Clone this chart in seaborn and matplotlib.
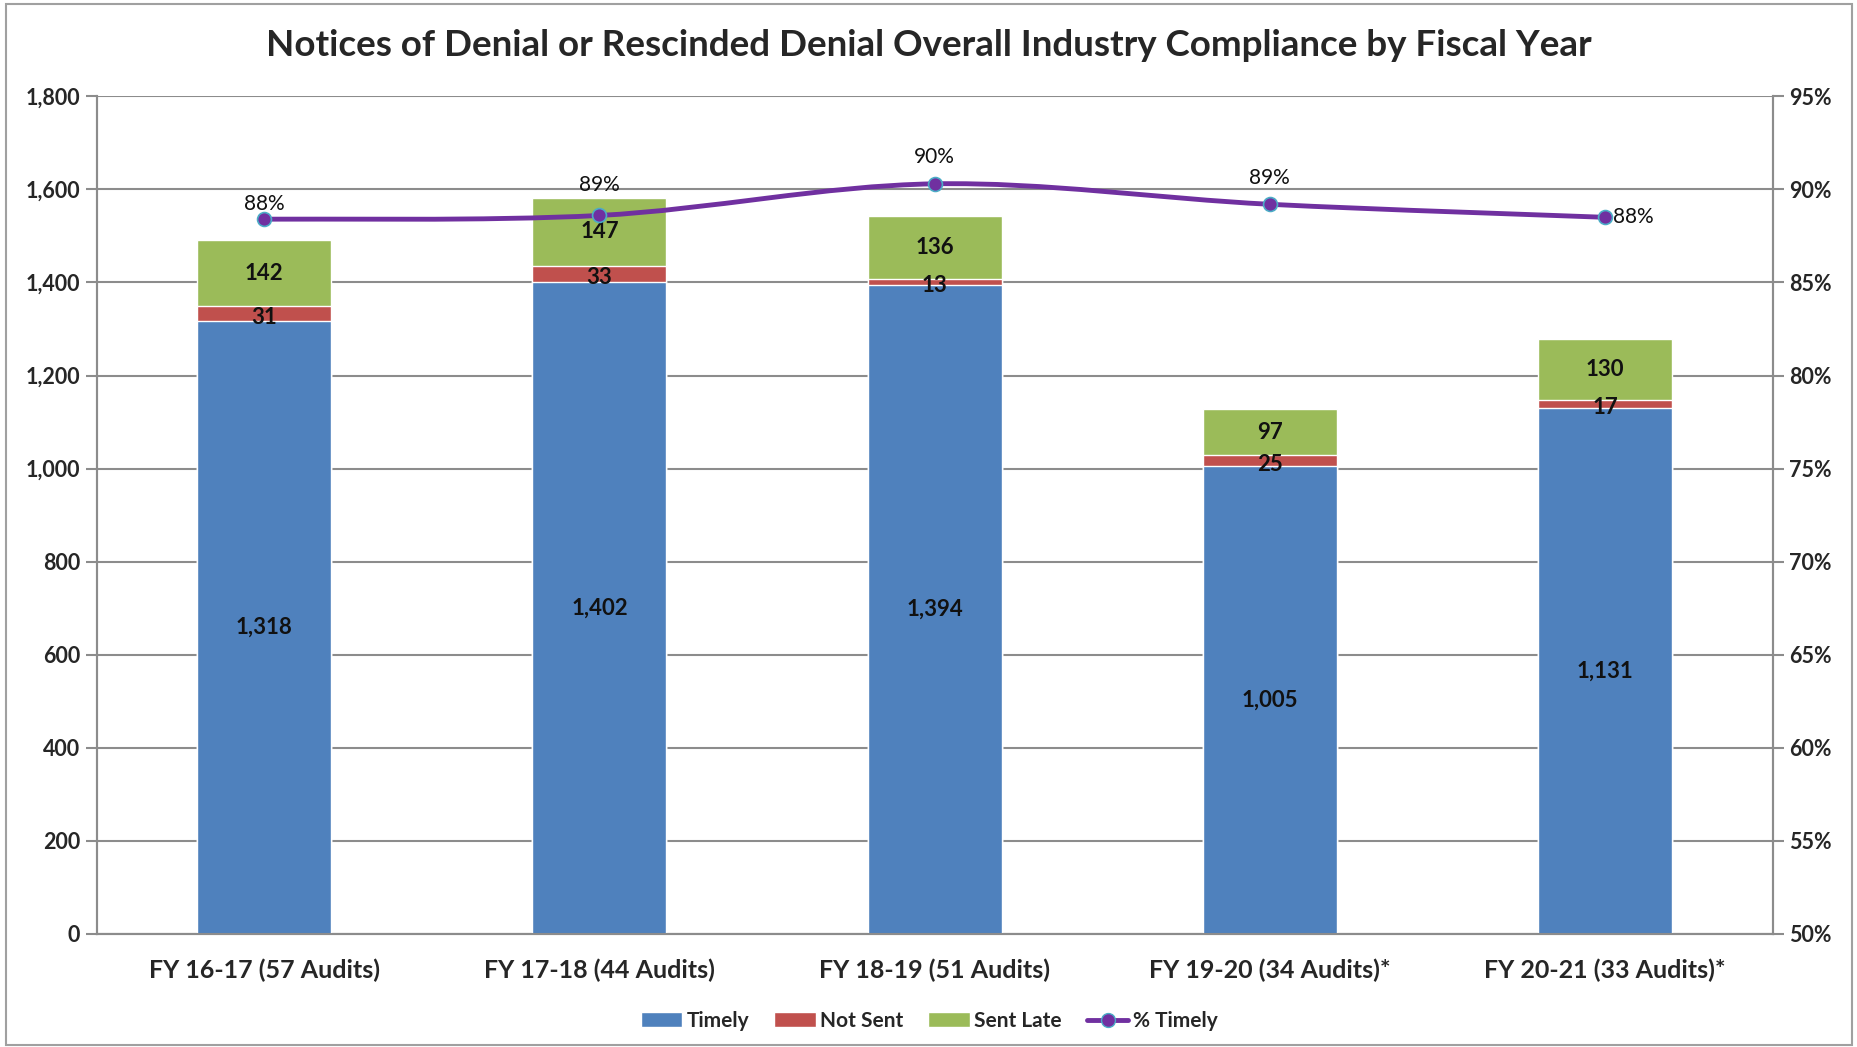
import numpy as np
import matplotlib
matplotlib.use('Agg')
import matplotlib.pyplot as plt
import seaborn as sb
from matplotlib.path import Path
from matplotlib.patches import PathPatch, Patch, Rectangle
from matplotlib.lines import Line2D
from matplotlib.ticker import FuncFormatter, PercentFormatter

# Data
years = ['FY 16-17 (57 Audits)', 'FY 17-18 (44 Audits)', 'FY 18-19 (51 Audits)',
         'FY 19-20 (34 Audits)*', 'FY 20-21 (33 Audits)*']
timely = [1318, 1402, 1394, 1005, 1131]
notSent = [31, 33, 13, 25, 17]
sentLate = [142, 147, 136, 97, 130]
pctTimely = [0.884, 0.886, 0.903, 0.892, 0.885]
pctLabels = ['88%', '89%', '90%', '89%', '88%']

blue = '#4F81BD'
red = '#C0504D'
green = '#9BBB59'
purple = '#7030A0'
gridGray = '#8C8C8C'

sb.set_style('white')
plt.rcParams['font.family'] = ['Lato', 'DejaVu Sans']

fig = plt.figure(figsize=(18.58, 10.47), dpi=100)
ax = fig.add_axes([0.052, 0.108, 0.902, 0.8])

timely = np.array(timely)
notSent = np.array(notSent)
sentLate = np.array(sentLate)
lower2 = timely + notSent
total = lower2 + sentLate

# stacked bars: draw the tallest first, then overlay
sb.barplot(x=years, y=total, color=green, saturation=1, width=0.4, ax=ax, zorder=2)
sb.barplot(x=years, y=lower2, color=red, saturation=1, width=0.4, ax=ax, zorder=3)
sb.barplot(x=years, y=timely, color=blue, saturation=1, width=0.4, ax=ax, zorder=4)

ax.set_ylim(0, 1800)
ax.set_xlim(-0.5, len(years) - 0.5)
ax.set_yticks(np.arange(0, 1801, 200))
ax.yaxis.set_major_formatter(FuncFormatter(lambda v, p: f'{int(v):,}'))
ax.yaxis.grid(True, color=gridGray, linewidth=1.5, zorder=0)
ax.set_axisbelow(True)
ax.set_xlabel('')
ax.set_ylabel('')

ax.set_xticks(np.arange(len(years)))
ax.set_xticklabels(years, fontsize=18, fontweight='bold')
ax.set_xticks(np.arange(-0.5, len(years)), minor=True)
ax.tick_params(axis='x', which='major', length=0, pad=18)
ax.tick_params(axis='x', which='minor', length=8, width=1.5, color=gridGray, direction='out')
ax.tick_params(axis='y', length=8, width=1.5, color=gridGray, direction='out', pad=4,
               labelsize=15.5)
for lab in ax.get_yticklabels():
    lab.set_fontweight('bold')

for side in ['left', 'bottom', 'right']:
    ax.spines[side].set_color(gridGray)
    ax.spines[side].set_linewidth(1.5)
ax.spines['top'].set_visible(False)

# segment labels
for i in range(len(years)):
    ax.text(i, timely[i] / 2, f'{timely[i]:,}', ha='center', va='center',
            fontsize=16, fontweight='bold', color='#111111', zorder=6)
    ax.text(i, timely[i] + notSent[i] / 2 - 8, f'{notSent[i]}', ha='center', va='center',
            fontsize=16, fontweight='bold', color='#111111', zorder=6)
    ax.text(i, lower2[i] + sentLate[i] / 2, f'{sentLate[i]}', ha='center', va='center',
            fontsize=16, fontweight='bold', color='#111111', zorder=6)

# secondary axis for % timely
ax2 = ax.twinx()
ax2.set_ylim(0.50, 0.95)
ax2.set_yticks(np.arange(0.50, 0.951, 0.05))
ax2.yaxis.set_major_formatter(PercentFormatter(1.0, decimals=0))
ax2.tick_params(axis='y', length=8, width=1.5, color=gridGray, direction='out', pad=4,
                labelsize=15.5)
for lab in ax2.get_yticklabels():
    lab.set_fontweight('bold')
for side in ['left', 'bottom', 'right']:
    ax2.spines[side].set_color(gridGray)
    ax2.spines[side].set_linewidth(1.5)
ax2.spines['top'].set_visible(False)

# smoothed line (Excel style bezier through the points)
xs = np.arange(len(years), dtype=float)
ys = np.array(pctTimely)
pts = list(zip(xs, ys))
verts = [pts[0]]
codes = [Path.MOVETO]
n = len(pts)
for i in range(n - 1):
    p0 = np.array(pts[max(i - 1, 0)])
    p1 = np.array(pts[i])
    p2 = np.array(pts[i + 1])
    p3 = np.array(pts[min(i + 2, n - 1)])
    c1 = p1 + (p2 - p0) / 6
    c2 = p2 - (p3 - p1) / 6
    verts += [tuple(c1), tuple(c2), tuple(p2)]
    codes += [Path.CURVE4] * 3
ax2.add_patch(PathPatch(Path(verts, codes), facecolor='none', edgecolor=purple,
                        linewidth=3.5, zorder=5))
ax2.plot(xs, ys, linestyle='none', marker='o', markersize=10, markerfacecolor=purple,
         markeredgecolor='#4BACC6', markeredgewidth=1.2, zorder=6)

labelOffsets = [4, 15, 12, 12]
for i in range(n):
    if i == n - 1:
        ax2.annotate(pctLabels[i], (xs[i], ys[i]), xytext=(6, 0), textcoords='offset points',
                     ha='left', va='center', fontsize=15, color='#111111')
    else:
        ax2.annotate(pctLabels[i], (xs[i], ys[i]), xytext=(0, labelOffsets[i]),
                     textcoords='offset points', ha='center', va='bottom', fontsize=15,
                     color='#111111')

fig.suptitle('Notices of Denial or Rescinded Denial Overall Industry Compliance by Fiscal Year',
             x=0.5, y=0.972, fontsize=26.5, fontweight='bold')

handles = [Patch(facecolor=blue, label='Timely'),
           Patch(facecolor=red, label='Not Sent'),
           Patch(facecolor=green, label='Sent Late'),
           Line2D([0], [0], color=purple, linewidth=3.5, marker='o', markersize=10,
                  markerfacecolor=purple, markeredgecolor='#4BACC6', label='% Timely')]
leg = fig.legend(handles=handles, loc='center', bbox_to_anchor=(0.5, 0.025), ncol=4,
                 frameon=False, fontsize=15, handlelength=2.0, handletextpad=0.2,
                 columnspacing=1.2)
for t in leg.get_texts():
    t.set_fontweight('bold')

fig.patches.append(Rectangle((0.003, 0.002), 0.994, 0.994, transform=fig.transFigure,
                             fill=False, edgecolor='#A0A0A0', linewidth=1.5))

fig.savefig('out.png', dpi=100)
